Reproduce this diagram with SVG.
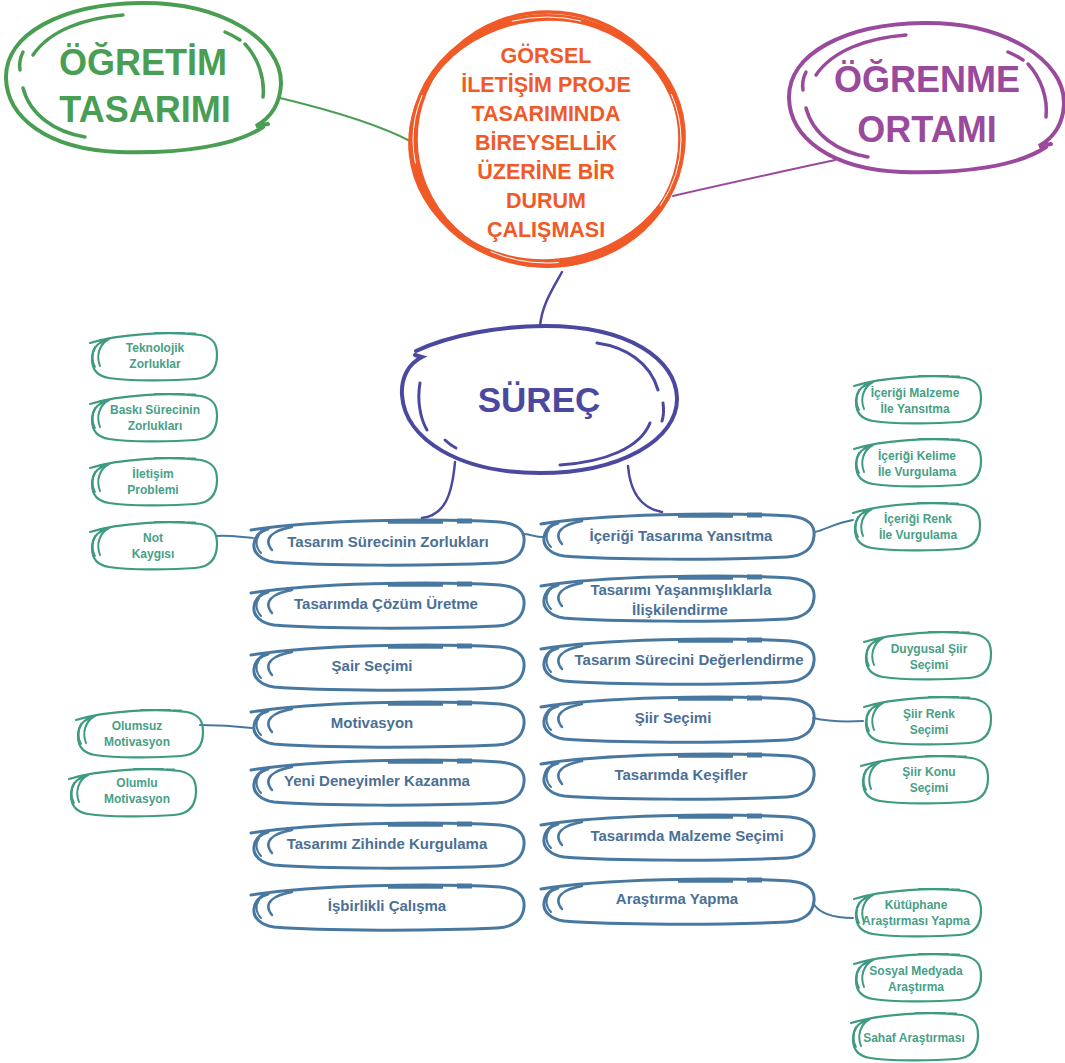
<svg xmlns="http://www.w3.org/2000/svg" xmlns:xlink="http://www.w3.org/1999/xlink" width="1065" height="1063" viewBox="0 0 1065 1063">
<style>
text{font-family:"Liberation Sans",Arial,sans-serif;font-weight:bold;text-anchor:middle}
.pill{stroke:#4878a0}
.leaf{stroke:#3f9a82}
.pt{font-size:15px;fill:#4b7096}
.lt{font-size:12px;fill:#47a087}
.conn{fill:none;stroke-linecap:round}
.blue{stroke:#4878a0;stroke-width:2}
.indigo{stroke:#4b48a0;stroke-width:2.5}
</style>
<defs>
<g id="pillShape" fill="none" stroke-linecap="round">
<path d="M -1,12 C 60,2 180,0 248,4 C 268,6 273,14 272,24 C 271,36 262,44 245,45 C 180,48 70,48 22,44 C 8,42 1,34 2,26 C 3,18 8,13 16,11" stroke-width="3"/>
<path d="M 40,9 C 22,12 10,20 20,32" stroke-width="2.5"/>
<path d="M 7,17 C 3,23 4,30 9,35" stroke-width="2"/>
<path d="M 136,3.5 L 191,3.5" stroke-width="4.5" stroke-linecap="butt"/>
<path d="M 205,3 L 220,3" stroke-width="5" stroke-linecap="butt"/>
</g>
<g id="leafShape" fill="none" stroke-linecap="round">
<path d="M 1,11 C 30,2 80,-1 112,3 C 126,6 128,14 128,23 C 128,37 121,46 106,47 C 80,49 40,49 20,46 C 7,44 3,36 3,27 C 3,18 7,12 15,9" stroke-width="2.2"/>
<path d="M 20,7 C 10,12 7,24 11,34" stroke-width="2"/>
<path d="M 6,15 C 3,21 3,29 6,35" stroke-width="1.8"/>
<path d="M 66,1 L 95,1" stroke-width="2.2"/>
<path d="M 99,1.5 L 106,1.5" stroke-width="2.2"/>
</g>
<g id="bigEllipse" fill="none" stroke-linecap="round">
<path d="M 263,127 C 235,146 180,154 118,152 C 48,149 7,118 6,78 C 5,34 62,4 140,3 C 222,2 282,40 281,84 C 280,104 272,117 256,126 L 268,124" stroke-width="4"/>
<path d="M 123,15 C 85,18 50,30 33,55" stroke-width="3.5"/>
<path d="M 23,52 C 20,58 19,64 20,70" stroke-width="3.5"/>
<path d="M 23,88 C 30,115 55,132 85,137" stroke-width="3.5"/>
<path d="M 225,32 C 232,35 237,38 240,40" stroke-width="3.5"/>
<path d="M 245,44 C 258,58 265,78 263,97" stroke-width="3.5"/>
</g>
</defs>
<rect width="1065" height="1063" fill="#ffffff"/>

<g id="connectors" class="conn">
<path d="M 280,98 C 330,110 380,125 412,142" stroke="#4a9e53" stroke-width="2"/>
<path d="M 673,196 C 720,185 780,172 835,160" stroke="#9a4a9c" stroke-width="2"/>
<path class="indigo" d="M 562,272 C 552,290 542,305 540,326"/>
<path class="indigo" d="M 455,462 C 452,495 445,515 422,518"/>
<path class="indigo" d="M 628,466 C 630,490 640,508 662,512"/>
<path class="blue" d="M 216,536 C 230,535 240,537 253,538"/>
<path class="blue" d="M 523,534 C 530,534 535,537 543,537"/>
<path class="blue" d="M 815,532 C 825,530 835,523 853,520"/>
<path class="blue" d="M 200,725 C 220,725 235,726 252,728"/>
<path class="blue" d="M 813,718 C 830,722 845,722 863,721"/>
<path class="blue" d="M 813,903 C 820,915 835,918 853,918"/>
</g>

<g id="ogretim-tasarimi">
<use xlink:href="#bigEllipse" href="#bigEllipse" stroke="#4a9e53"/>
<text x="143" y="75" font-size="36" fill="#4a9e53">ÖĞRETİM</text>
<text x="145" y="122" font-size="36" fill="#4a9e53">TASARIMI</text>
</g>

<g id="ogrenme-ortami">
<use xlink:href="#bigEllipse" href="#bigEllipse" transform="translate(783,20)" stroke="#9a4a9c"/>
<text x="927" y="92" font-size="36" fill="#9a4a9c">ÖĞRENME</text>
<text x="927" y="142" font-size="36" fill="#9a4a9c">ORTAMI</text>
</g>

<g id="merkez">
<g fill="none" stroke="#f05a28">
<ellipse cx="547" cy="141" rx="135" ry="124" stroke-width="6"/>
<ellipse cx="547" cy="140" rx="137" ry="121" stroke-width="4" transform="rotate(-6 547 140)"/>
<ellipse cx="548" cy="139" rx="132" ry="127" stroke-width="3.5"/>
</g>
<ellipse cx="547" cy="140" rx="134" ry="123" fill="none" stroke="#ffffff" stroke-width="1" stroke-dasharray="70 120"/>
<g font-size="21.5" fill="#f05a28">
<text x="546" y="63">GÖRSEL</text>
<text x="546" y="92">İLETİŞİM PROJE</text>
<text x="546" y="121">TASARIMINDA</text>
<text x="546" y="150">BİREYSELLİK</text>
<text x="546" y="179">ÜZERİNE BİR</text>
<text x="546" y="208">DURUM</text>
<text x="546" y="237">ÇALIŞMASI</text>
</g>
</g>

<g id="surec">
<g fill="none" stroke="#4b48a0" stroke-linecap="round">
<path d="M 416,351 C 450,335 500,326 545,326 C 630,326 676,360 677,398 C 678,440 620,473 540,473 C 460,473 405,440 402,395 C 401,378 408,364 422,357 L 415,355" stroke-width="4"/>
<path d="M 420,383 C 417,400 420,418 427,430" stroke-width="3"/>
<path d="M 445,440 C 448,443 452,446 456,448" stroke-width="3"/>
<path d="M 597,343 C 625,347 650,362 658,390" stroke-width="3"/>
<path d="M 663,403 C 664,410 664,415 662,421" stroke-width="3"/>
<path d="M 650,423 C 640,448 605,462 560,465" stroke-width="3"/>
</g>
<text x="539" y="412" font-size="35" fill="#4b48a0">SÜREÇ</text>
</g>

<g id="tasarim-surecinin-zorluklari"><use href="#pillShape" xlink:href="#pillShape" class="pill" transform="translate(252,518)"/><text class="pt" x="388" y="547">Tasarım Sürecinin Zorlukları</text></g>
<g id="tasarimda-cozum-uretme"><use href="#pillShape" xlink:href="#pillShape" class="pill" transform="translate(252,581)"/><text class="pt" x="386" y="609">Tasarımda Çözüm Üretme</text></g>
<g id="sair-secimi"><use href="#pillShape" xlink:href="#pillShape" class="pill" transform="translate(252,643)"/><text class="pt" x="372" y="671">Şair Seçimi</text></g>
<g id="motivasyon"><use href="#pillShape" xlink:href="#pillShape" class="pill" transform="translate(252,700)"/><text class="pt" x="372" y="728">Motivasyon</text></g>
<g id="yeni-deneyimler"><use href="#pillShape" xlink:href="#pillShape" class="pill" transform="translate(252,758)"/><text class="pt" x="377" y="786">Yeni Deneyimler Kazanma</text></g>
<g id="zihinde-kurgulama"><use href="#pillShape" xlink:href="#pillShape" class="pill" transform="translate(252,821)"/><text class="pt" x="387" y="849">Tasarımı Zihinde Kurgulama</text></g>
<g id="isbirlikli-calisma"><use href="#pillShape" xlink:href="#pillShape" class="pill" transform="translate(252,883)"/><text class="pt" x="387" y="911">İşbirlikli Çalışma</text></g>

<g id="icerigi-tasarima-yansitma"><use href="#pillShape" xlink:href="#pillShape" class="pill" transform="translate(542,512)"/><text class="pt" x="681" y="541">İçeriği Tasarıma Yansıtma</text></g>
<g id="yasanmisliklarla"><use href="#pillShape" xlink:href="#pillShape" class="pill" transform="translate(542,574)"/><text class="pt" x="681" y="595">Tasarımı Yaşanmışlıklarla</text><text class="pt" x="680" y="615">İlişkilendirme</text></g>
<g id="surecini-degerlendirme"><use href="#pillShape" xlink:href="#pillShape" class="pill" transform="translate(542,637)"/><text class="pt" x="689" y="665">Tasarım Sürecini Değerlendirme</text></g>
<g id="siir-secimi"><use href="#pillShape" xlink:href="#pillShape" class="pill" transform="translate(542,695)"/><text class="pt" x="673" y="723">Şiir Seçimi</text></g>
<g id="tasarimda-kesifler"><use href="#pillShape" xlink:href="#pillShape" class="pill" transform="translate(542,752)"/><text class="pt" x="681" y="780">Tasarımda Keşifler</text></g>
<g id="malzeme-secimi"><use href="#pillShape" xlink:href="#pillShape" class="pill" transform="translate(542,813)"/><text class="pt" x="687" y="841">Tasarımda Malzeme Seçimi</text></g>
<g id="arastirma-yapma"><use href="#pillShape" xlink:href="#pillShape" class="pill" transform="translate(542,877)"/><text class="pt" x="677" y="904">Araştırma Yapma</text></g>

<g id="teknolojik-zorluklar"><use href="#leafShape" xlink:href="#leafShape" class="leaf" transform="translate(89,332)"/><text class="lt" x="155" y="352">Teknolojik</text><text class="lt" x="155" y="368">Zorluklar</text></g>
<g id="baski-sureci"><use href="#leafShape" xlink:href="#leafShape" class="leaf" transform="translate(89,393)"/><text class="lt" x="155" y="414">Baskı Sürecinin</text><text class="lt" x="155" y="430">Zorlukları</text></g>
<g id="iletisim-problemi"><use href="#leafShape" xlink:href="#leafShape" class="leaf" transform="translate(89,457)"/><text class="lt" x="153" y="478">İletişim</text><text class="lt" x="153" y="494">Problemi</text></g>
<g id="not-kaygisi"><use href="#leafShape" xlink:href="#leafShape" class="leaf" transform="translate(89,521)"/><text class="lt" x="153" y="542">Not</text><text class="lt" x="153" y="558">Kaygısı</text></g>
<g id="olumsuz-motivasyon"><use href="#leafShape" xlink:href="#leafShape" class="leaf" transform="translate(75,709)"/><text class="lt" x="137" y="730">Olumsuz</text><text class="lt" x="137" y="746">Motivasyon</text></g>
<g id="olumlu-motivasyon"><use href="#leafShape" xlink:href="#leafShape" class="leaf" transform="translate(68,768)"/><text class="lt" x="137" y="787">Olumlu</text><text class="lt" x="137" y="803">Motivasyon</text></g>

<g id="icerigi-malzeme"><use href="#leafShape" xlink:href="#leafShape" class="leaf" transform="translate(853,375)"/><text class="lt" x="915" y="397">İçeriği Malzeme</text><text class="lt" x="915" y="413">İle Yansıtma</text></g>
<g id="icerigi-kelime"><use href="#leafShape" xlink:href="#leafShape" class="leaf" transform="translate(853,438)"/><text class="lt" x="917" y="460">İçeriği Kelime</text><text class="lt" x="917" y="476">İle Vurgulama</text></g>
<g id="icerigi-renk"><use href="#leafShape" xlink:href="#leafShape" class="leaf" transform="translate(852,502)"/><text class="lt" x="918" y="523">İçeriği Renk</text><text class="lt" x="918" y="539">İle Vurgulama</text></g>
<g id="duygusal-siir"><use href="#leafShape" xlink:href="#leafShape" class="leaf" transform="translate(863,631)"/><text class="lt" x="929" y="653">Duygusal Şiir</text><text class="lt" x="929" y="669">Seçimi</text></g>
<g id="siir-renk"><use href="#leafShape" xlink:href="#leafShape" class="leaf" transform="translate(863,696)"/><text class="lt" x="929" y="718">Şiir Renk</text><text class="lt" x="929" y="734">Seçimi</text></g>
<g id="siir-konu"><use href="#leafShape" xlink:href="#leafShape" class="leaf" transform="translate(860,755)"/><text class="lt" x="929" y="776">Şiir Konu</text><text class="lt" x="929" y="792">Seçimi</text></g>
<g id="kutuphane"><use href="#leafShape" xlink:href="#leafShape" class="leaf" transform="translate(853,888)"/><text class="lt" x="916" y="909">Kütüphane</text><text class="lt" x="916" y="925">Araştırması Yapma</text></g>
<g id="sosyal-medya"><use href="#leafShape" xlink:href="#leafShape" class="leaf" transform="translate(853,953)"/><text class="lt" x="916" y="975">Sosyal Medyada</text><text class="lt" x="916" y="991">Araştırma</text></g>
<g id="sahaf"><use href="#leafShape" xlink:href="#leafShape" class="leaf" transform="translate(850,1012)"/><text class="lt" x="914" y="1042">Sahaf Araştırması</text></g>
</svg>
